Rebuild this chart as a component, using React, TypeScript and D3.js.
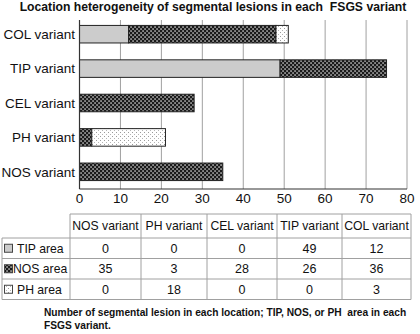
import React from 'react';
import * as d3 from 'd3';

// chart rows, top to bottom
const chartVariants = ['COL variant', 'TIP variant', 'CEL variant', 'PH variant', 'NOS variant'];
// table columns, left to right
const tableVariants = ['NOS variant', 'PH variant', 'CEL variant', 'TIP variant', 'COL variant'];
const areaNames = ['TIP area', 'NOS area', 'PH area'];
const tipArea = [0, 0, 0, 49, 12];
const nosArea = [35, 3, 28, 26, 36];
const phArea = [0, 18, 0, 0, 3];
const xTicks = [0, 10, 20, 30, 40, 50, 60, 70, 80];

const title = 'Location heterogeneity of segmental lesions in each\u00a0 FSGS variant';
const caption1 = 'Number of segmental lesion in each location; TIP, NOS, or PH\u00a0 area in each';
const caption2 = 'FSGS variant.';

const font = 'Liberation Sans, Arial, Helvetica, sans-serif';
const W = 420;
const H = 334;

const plot = { left: 79.5, right: 407, top: 17, bottom: 189, gridTop: 20 };
const table = { top: 214, rowH: [24, 20.5, 20.5, 20.5], colEdges: [2, 70, 141, 207, 277, 342, 411] };

const fills = ['#cccccc', 'url(#nosPat)', 'url(#phPat)'];

export default function App() {
  const x = d3.scaleLinear().domain([0, 80]).range([plot.left, plot.right]);
  const y = d3.scaleBand<string>()
    .domain(chartVariants)
    .range([plot.top, plot.bottom])
    .paddingInner(0.49)
    .paddingOuter(0.245);

  const rows = tableVariants.map((v, i) => ({
    variant: v,
    'TIP area': tipArea[i],
    'NOS area': nosArea[i],
    'PH area': phArea[i],
  }));
  const series = d3.stack<any>().keys(areaNames)(rows);
  const tableValues = [tipArea, nosArea, phArea];

  const rowTops: number[] = [];
  let acc = table.top;
  table.rowH.forEach(h => { rowTops.push(acc); acc += h; });
  const tableBottom = acc;
  const gridColor = '#a0a0a0';

  return (
    <svg width={W} height={H} style={{ position: 'absolute', left: 0, top: 0, background: '#fff' }}
      fontFamily={font}>
      <defs>
        <pattern id="nosPat" patternUnits="userSpaceOnUse" width={4} height={4}>
          <rect width={4} height={4} fill="#1a1a1a" />
          <rect x={0.4} y={0.4} width={1.3} height={1.3} fill="#fff" />
          <rect x={2.4} y={2.4} width={1.3} height={1.3} fill="#fff" />
        </pattern>
        <pattern id="phPat" patternUnits="userSpaceOnUse" width={4} height={4}>
          <rect width={4} height={4} fill="#fff" />
          <rect x={0} y={0} width={1} height={1} fill="#9a9a9a" />
          <rect x={2} y={2} width={1} height={1} fill="#b5b5b5" />
        </pattern>
      </defs>

      <text x={213} y={11} textAnchor="middle" fontSize={12.2} fontWeight="bold" fill="#111">{title}</text>

      {/* gridlines */}
      {xTicks.filter(t => t > 0).map(t => (
        <line key={t} x1={x(t)} x2={x(t)} y1={plot.gridTop} y2={plot.bottom} stroke={gridColor} strokeWidth={1} />
      ))}

      {/* bars */}
      {series.map((s, si) => (
        <g key={s.key} fill={fills[si]}>
          {s.map((d, i) => (d[1] - d[0] > 0 ? (
            <rect key={i} x={x(d[0])} y={y(d.data.variant)!} width={x(d[1]) - x(d[0])} height={y.bandwidth()}
              stroke="#222" strokeWidth={1} />
          ) : null))}
        </g>
      ))}

      {/* axes */}
      <line x1={plot.left} x2={plot.left} y1={plot.gridTop} y2={plot.bottom} stroke="#333" strokeWidth={1.2} />
      <line x1={plot.left} x2={plot.right} y1={plot.bottom} y2={plot.bottom} stroke="#333" strokeWidth={1.2} />
      {xTicks.map(t => (
        <text key={t} x={x(t)} y={203} textAnchor="middle" fontSize={13.5} fill="#111">{t}</text>
      ))}
      {chartVariants.map(v => (
        <text key={v} x={75} y={y(v)! + y.bandwidth() / 2} dy="0.36em" textAnchor="end" fontSize={13.5} fill="#111">{v}</text>
      ))}

      {/* table */}
      <g stroke={gridColor} strokeWidth={1}>
        <line x1={table.colEdges[1]} x2={table.colEdges[6]} y1={table.top} y2={table.top} />
        {rowTops.slice(1).concat([tableBottom]).map((yy, i) => (
          <line key={i} x1={table.colEdges[0]} x2={table.colEdges[6]} y1={yy} y2={yy} />
        ))}
        <line x1={table.colEdges[0]} x2={table.colEdges[0]} y1={rowTops[1]} y2={tableBottom} />
        {table.colEdges.slice(1).map((cx, i) => (
          <line key={i} x1={cx} x2={cx} y1={table.top} y2={tableBottom} />
        ))}
      </g>
      {tableVariants.map((v, j) => (
        <text key={v} x={(table.colEdges[j + 1] + table.colEdges[j + 2]) / 2} y={rowTops[0] + table.rowH[0] / 2}
          dy="0.36em" textAnchor="middle" fontSize={12.2} fill="#111">{v}</text>
      ))}
      {areaNames.map((a, r) => {
        const top = rowTops[r + 1];
        const mid = top + table.rowH[r + 1] / 2;
        return (
          <g key={a}>
            <rect x={4.5} y={mid - 4} width={8} height={8} fill={fills[r]} stroke="#444" strokeWidth={1} />
            <text x={r === 1 ? 13 : 17} y={mid} dy="0.36em" fontSize={12.2} fill="#111">{a}</text>
            {tableValues[r].map((val, j) => (
              <text key={j} x={(table.colEdges[j + 1] + table.colEdges[j + 2]) / 2} y={mid} dy="0.36em"
                textAnchor="middle" fontSize={12.5} fill="#111">{val}</text>
            ))}
          </g>
        );
      })}

      <text x={44} y={316} fontSize={10.2} fontWeight="bold" fill="#111">{caption1}</text>
      <text x={44} y={329} fontSize={10.2} fontWeight="bold" fill="#111">{caption2}</text>
    </svg>
  );
}
